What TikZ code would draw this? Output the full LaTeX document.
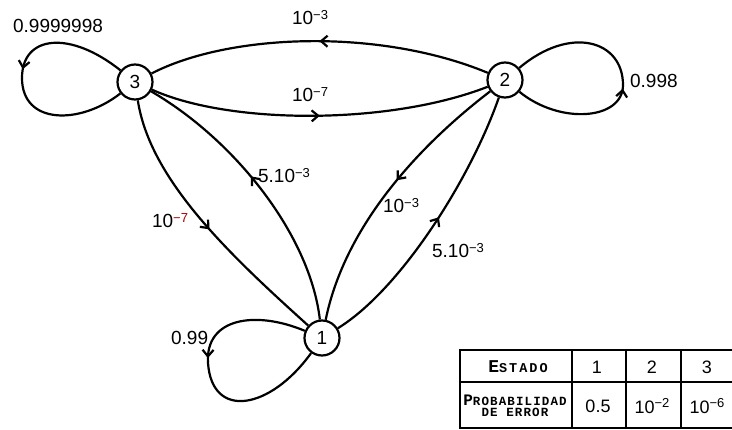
\documentclass[tikz,border=0pt]{standalone}
\usepackage{fontspec}
\setmainfont{Liberation Sans}
\newfontfamily\tabfont[LetterSpace=15]{Liberation Mono}
\newfontfamily\tabfontb[LetterSpace=9]{Liberation Mono}
\usetikzlibrary{arrows.meta,decorations.markings}
\newcommand\supx[1]{\raisebox{5.5pt}{\fontsize{13}{13}\selectfont #1}}
\newcommand\capA[1]{{\fontsize{18}{18}\selectfont #1}}
\newcommand\capB[1]{{\fontsize{13.5}{13.5}\selectfont #1}}
\newcommand\capC[1]{{\fontsize{16}{16}\selectfont #1}}
\newcommand\capD[1]{{\fontsize{12.5}{12.5}\selectfont #1}}
\begin{document}
\begin{tikzpicture}[x=1pt,y=-1pt,line width=2.2pt,
  state/.style={circle,draw,minimum size=35pt,inner sep=0pt,font=\fontsize{19}{19}\selectfont},
  lbl/.style={anchor=base west,inner sep=0pt,font=\fontsize{19}{19}\selectfont},
  cell/.style={inner sep=0pt,font=\fontsize{18}{18}\selectfont},
  tcell/.style={inner sep=0pt,font=\tabfont\bfseries,align=center},
  tcellb/.style={inner sep=0pt,font=\tabfontb\bfseries,align=center},
  barb/.tip={Straight Barb[length=6.5pt,width=11pt]},
  midarrow/.style={postaction={decorate},decoration={markings,mark=at position #1 with {\arrow{barb}}}},
  midarrow/.default=0.5]
\useasboundingbox (0,0) rectangle (732,430);
% states
\node[state] (n3) at (135,82) {3};
\node[state] (n2) at (505,80) {2};
\node[state] (n1) at (322,338) {1};
% edges between states
\draw[midarrow=0.5] (n2) .. controls (380,28) and (230,33) .. (n3);
\draw[midarrow=0.5] (n3) .. controls (230,125) and (390,125) .. (n2);
\draw[midarrow=0.52] (n3) .. controls (150,180) and (230,255) .. (n1);
\draw[midarrow=0.55] (n1) .. controls (310,235) and (235,140) .. (n3);
\draw[midarrow=0.45] (n2) .. controls (420,145) and (345,225) .. (n1);
\draw[midarrow=0.53] (n1) .. controls (400,290) and (470,180) .. (n2);
% loops
\coordinate (l3) at (22,78);
\draw[midarrow=0.93] (n3) .. controls (70,30) and (22,35) .. (l3);
\draw (l3) .. controls (22,125) and (80,125) .. (n3);
\coordinate (r2) at (623,85);
\draw[midarrow=0.97] (n2) .. controls (560,125) and (623,120) .. (r2);
\draw (r2) .. controls (623,40) and (570,25) .. (n2);
\coordinate (l1) at (208,363);
\draw[midarrow=0.96] (n1) .. controls (255,310) and (205,318) .. (l1);
\draw (l1) .. controls (212,420) and (270,410) .. (n1);
% labels
\node[lbl] (a32) at (291,25) {10\supx{−3}};
\node[lbl] (a23) at (291,102) {10\supx{−7}};
\node[lbl] (a31) at (151,228) {10\supx{\color{red!65!black}−7}};
\node[lbl] (a13) at (257,183) {5.10\supx{−3}};
\node[lbl] (a21) at (382,213) {10\supx{−3}};
\node[lbl] (a12) at (431,258) {5.10\supx{−3}};
\node[lbl] (s2) at (629,88) {0.998};
\node[lbl] (s1) at (170,345) {0.99};
\node[lbl] (s3) at (12,33) {0.9999998};
% table
\draw (460,350) rectangle (745,428);
\draw (460,382) -- (745,382);
\draw (572,350) -- (572,428);
\draw (626,350) -- (626,428);
\draw (681,350) -- (681,428);
\node[tcell] (te) at (518,367) {\capA{E}\capB{STADO}};
\node[tcellb] (tp) at (515,406) {\capC{P}\capD{ROBABILIDAD}\\[-0.5pt]\capD{DE ERROR}};
\node[cell] (c1) at (597,367) {1};
\node[cell] (c2) at (652,367) {2};
\node[cell] (c3) at (707,367) {3};
\node[cell] (v1) at (598,406) {0.5};
\node[cell] (v2) at (652,406) {10\supx{−2}};
\node[cell] (v3) at (707,406) {10\supx{−6}};
\end{tikzpicture}
\end{document}
